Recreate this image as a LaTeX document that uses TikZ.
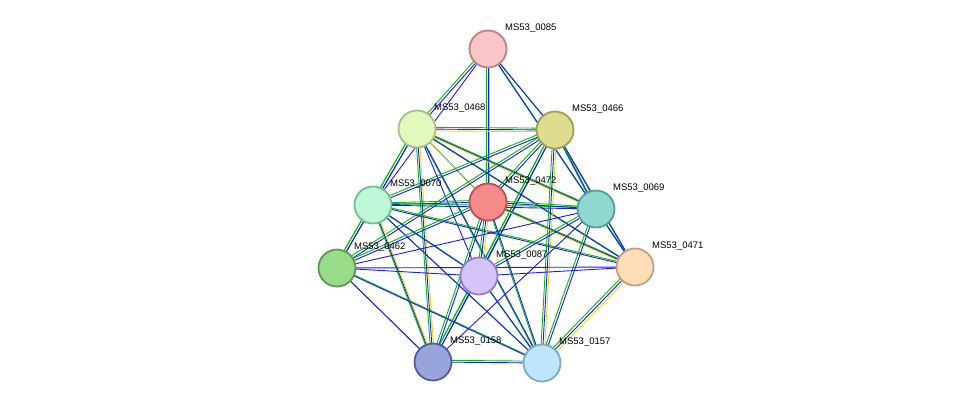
\documentclass[tikz,border=0pt]{standalone}
\usepackage{fontspec}
\setmainfont{Liberation Sans}
\begin{document}
\begin{tikzpicture}[x=1pt,y=-1pt,
  prot/.style={circle,minimum size=37pt,inner sep=0pt,line width=1.8pt},
  lab/.style={font=\fontsize{9.5}{11}\selectfont,anchor=south west,inner sep=0pt},
  eg/.style={draw=green!75!black,line width=0.9pt},
  eb/.style={draw=blue!90!white,line width=0.9pt},
  ey/.style={draw=yellow!80!olive,line width=0.9pt}]
\useasboundingbox (0,0) rectangle (976,408);
\definecolor{f1}{HTML}{F8C6C6}\definecolor{b1}{HTML}{C08080}
\definecolor{f2}{HTML}{E2F9BD}\definecolor{b2}{HTML}{A8C080}
\definecolor{f3}{HTML}{DEDC90}\definecolor{b3}{HTML}{A0A050}
\definecolor{f4}{HTML}{BFF8D8}\definecolor{b4}{HTML}{70C090}
\definecolor{f5}{HTML}{F58A8A}\definecolor{b5}{HTML}{C05050}
\definecolor{f6}{HTML}{8ED8D0}\definecolor{b6}{HTML}{50A098}
\definecolor{f7}{HTML}{FDDCB8}\definecolor{b7}{HTML}{C0A080}
\definecolor{f8}{HTML}{98DC8A}\definecolor{b8}{HTML}{5A9A50}
\definecolor{f9}{HTML}{D4C4F8}\definecolor{b9}{HTML}{9080C0}
\definecolor{f10}{HTML}{98A4DC}\definecolor{b10}{HTML}{505C9C}
\definecolor{f11}{HTML}{BDE6FB}\definecolor{b11}{HTML}{80A8C0}
\coordinate (a) at (488,49);
\coordinate (b) at (417,129);
\coordinate (c) at (555,130);
\coordinate (d) at (373,205);
\coordinate (e) at (488,202);
\coordinate (f) at (596,209);
\coordinate (g) at (635,267);
\coordinate (h) at (337,268);
\coordinate (i) at (479,276);
\coordinate (j) at (433,362);
\coordinate (k) at (542,363);
\newcommand\EE[3]{%
 \foreach \s in #3 {\ifnum\s=1 \path[eg,transform canvas={shift={(-1.8,-1.8)}}] (#1) -- (#2);\fi
 \ifnum\s=2 \path[eb] (#1) -- (#2);\fi
 \ifnum\s=3 \path[ey,transform canvas={shift={(1.8,1.8)}}] (#1) -- (#2);\fi}}
\foreach \p/\q/\c in {a/b/{1,2},a/c/{1,2},a/e/{1,2,3},a/f/{1,2},a/d/{2},
 b/c/{1,2,3},b/d/{1,2},b/e/{1,2,3},b/f/{1,2,3},b/g/{1,2},b/h/{1,2},b/i/{2},b/j/{1,2,3},b/k/{1,2},
 c/d/{1,2},c/e/{1,2},c/f/{1,2},c/g/{1,2},c/i/{1,2},c/k/{1,2,3},c/j/{1,2},c/h/{1,2},
 d/e/{1,2},d/f/{1,2},d/h/{1,2},d/i/{1,2},d/j/{1,2,3},d/k/{1,2},d/g/{1,2},
 e/f/{1,2},e/g/{1,2,3},e/h/{1,2},e/i/{1,2,3},e/j/{1,2},e/k/{1,2},
 f/g/{1,2},f/i/{1,2},f/j/{2},f/k/{1,2},f/h/{2},
 g/i/{2},g/h/{2},g/k/{1,2,3},
 h/i/{2},h/j/{1,2},h/k/{1,2},
 i/j/{1,2},i/k/{1,2},j/k/{1,2}}{\EE{\p}{\q}{\c}}
\foreach \n/\pos/\t/\k in {n1/a/0085/1,n2/b/0468/2,n3/c/0466/3,n4/d/0070/4,n5/e/0472/5,n6/f/0069/6,n7/g/0471/7,n8/h/0462/8,n9/i/0087/9,n10/j/0158/10,n11/k/0157/11}{
 \node[prot,fill=f\k,draw=b\k] (\n) at (\pos) {};
 \node[lab] (l\n) at ([shift={(17,-16)}]\pos) {MS53\_\t};}
\end{tikzpicture}
\end{document}
